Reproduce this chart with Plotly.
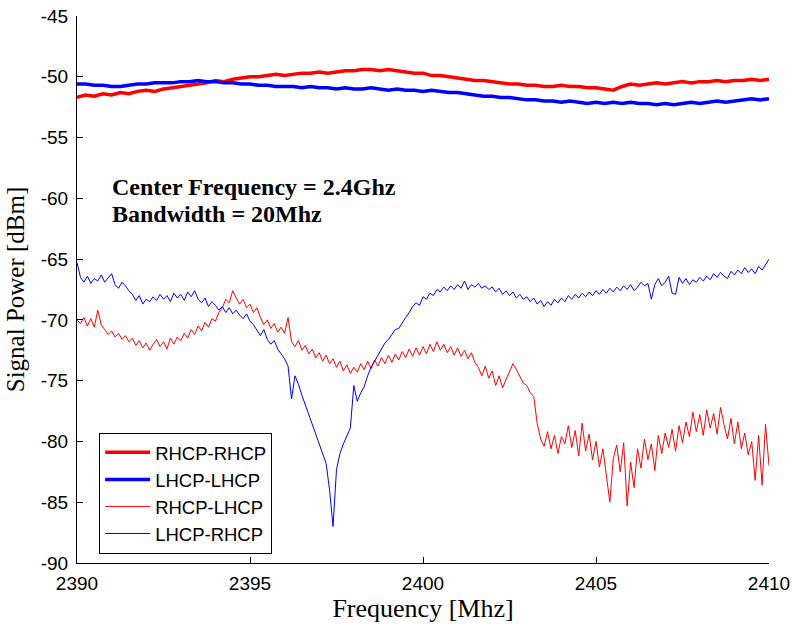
import numpy as np
import plotly.graph_objects as go

# ---------------- data ----------------
f_start, f_stop = 2390.0, 2410.0
freq_thin = np.round(np.arange(201) * 0.1 + f_start, 2)   # 0.1 MHz grid
freq_thick = np.round(np.arange(81) * 0.25 + f_start, 2)  # 0.25 MHz grid

rhcp_rhcp = [
    -51.7, -51.5, -51.6, -51.4, -51.5, -51.3, -51.4, -51.2, -51.1, -51.2,
    -51.0, -50.9, -50.8, -50.7, -50.6, -50.5, -50.3, -50.4, -50.2, -50.1,
    -50.0, -50.0, -49.9, -49.8, -49.9, -49.8, -49.7, -49.7, -49.6, -49.7,
    -49.6, -49.5, -49.5, -49.4, -49.4, -49.5, -49.4, -49.5, -49.6, -49.7,
    -49.7, -49.9, -49.9, -50.0, -50.1, -50.2, -50.3, -50.3, -50.4, -50.5,
    -50.6, -50.6, -50.7, -50.7, -50.8, -50.8, -50.7, -50.8, -50.8, -50.9,
    -50.9, -51.0, -51.1, -50.8, -50.6, -50.7, -50.6, -50.5, -50.6, -50.5,
    -50.4, -50.5, -50.4, -50.4, -50.3, -50.4, -50.3, -50.3, -50.2, -50.3,
    -50.2,
]

lhcp_lhcp = [
    -50.6, -50.6, -50.7, -50.7, -50.8, -50.8, -50.7, -50.6, -50.6, -50.5,
    -50.5, -50.5, -50.4, -50.4, -50.3, -50.4, -50.4, -50.5, -50.5, -50.6,
    -50.6, -50.7, -50.7, -50.8, -50.8, -50.8, -50.9, -50.8, -50.9, -50.9,
    -51.0, -50.9, -51.0, -51.0, -50.9, -51.0, -51.1, -51.0, -51.1, -51.1,
    -51.2, -51.1, -51.2, -51.3, -51.3, -51.4, -51.5, -51.6, -51.6, -51.7,
    -51.7, -51.8, -51.9, -51.9, -52.0, -52.0, -52.1, -52.0, -52.1, -52.2,
    -52.1, -52.2, -52.1, -52.2, -52.1, -52.2, -52.2, -52.3, -52.2, -52.3,
    -52.2, -52.1, -52.2, -52.1, -52.0, -52.1, -52.0, -51.9, -51.8, -51.9,
    -51.8,
]

rhcp_lhcp = [
    -70.0, -70.3, -69.8, -70.5, -69.9, -70.6, -69.2, -70.4, -70.8, -71.2,
    -70.9, -71.4, -71.1, -71.6, -71.3, -71.8, -71.5, -72.1, -71.7, -72.3,
    -71.9, -72.5, -72.0, -71.6, -72.2, -71.8, -72.4, -71.5, -72.0, -71.4,
    -71.7, -71.1, -71.5, -70.8, -71.2, -70.5, -70.9, -70.2, -70.6, -69.9,
    -70.1, -69.4, -69.0, -68.3, -68.6, -67.6, -68.2, -68.7, -68.3, -69.0,
    -68.7, -69.4, -69.0, -69.8, -70.4, -70.0, -70.7, -70.3, -71.0, -70.6,
    -71.1, -69.8, -71.8, -72.2, -71.7, -72.5, -72.1, -72.8, -72.4, -73.1,
    -72.7, -73.4, -72.9, -73.6, -73.2, -73.9, -73.4, -74.2, -73.7, -74.4,
    -73.9, -74.3, -73.6, -74.1, -73.4, -74.0, -73.3, -73.8, -73.1, -73.6,
    -72.9, -73.5, -72.8, -73.3, -72.6, -73.1, -72.4, -73.0, -72.3, -72.9,
    -72.2, -72.8, -72.0, -72.6, -71.8, -72.5, -72.0, -72.7, -72.2, -72.9,
    -72.3, -73.0, -72.5, -73.2, -72.7, -73.5, -73.9, -74.6, -73.8, -74.8,
    -74.2, -75.4, -74.6, -75.6, -74.9, -74.3, -73.6, -74.1, -74.6, -75.2,
    -75.4, -76.0, -76.3, -78.5, -79.8, -80.4, -79.2, -80.6, -79.5, -81.0,
    -79.6, -80.2, -78.7, -80.5, -79.1, -81.2, -78.5, -80.8, -79.4, -81.5,
    -80.0, -82.1, -80.6, -83.0, -85.0, -81.4, -80.3, -82.5, -80.1, -85.3,
    -81.7, -83.8, -80.6, -82.2, -79.8, -81.5, -80.2, -82.4, -79.5, -81.0,
    -79.3, -80.5, -79.0, -80.8, -78.7, -80.1, -78.4, -79.6, -77.6, -79.2,
    -77.8, -79.5, -77.4, -78.9, -77.7, -79.4, -77.2, -78.6, -79.8, -78.1,
    -80.2, -78.4, -80.6, -79.3, -81.1, -80.0, -83.2, -79.5, -83.6, -78.6,
    -82.0,
]

lhcp_rhcp = [
    -65.3, -66.5, -66.9, -66.4, -67.0, -66.6, -66.8, -66.3, -66.9, -66.5,
    -66.2, -67.1, -67.4, -66.9, -67.2, -67.6, -67.9, -68.4, -68.0, -68.7,
    -68.3, -68.5, -68.1, -68.4, -67.9, -68.3, -68.0, -68.5, -67.8, -68.2,
    -67.9, -68.4, -67.7, -68.1, -67.6, -68.3, -68.6, -68.2, -68.9, -68.5,
    -68.8, -69.2, -68.9, -69.4, -69.0, -69.5, -69.2, -69.6, -69.9, -69.5,
    -70.1, -70.4, -70.9, -71.3, -70.8, -71.6, -72.0, -71.7, -72.4, -72.8,
    -73.2, -73.8, -76.5, -74.6, -75.3, -76.2, -77.0, -77.8, -78.6, -79.3,
    -80.2, -80.9, -81.8, -84.0, -87.0, -82.3, -81.0, -80.2, -79.6, -78.9,
    -75.4, -76.7, -76.0, -75.5, -74.6, -73.9, -73.4, -72.9, -72.3, -71.9,
    -71.6, -71.2, -70.8, -70.7, -70.2, -69.8, -69.4, -68.9, -68.6, -68.8,
    -68.1, -68.3, -67.8, -68.0, -67.5, -67.7, -67.3, -67.6, -67.2, -67.5,
    -67.1, -67.4, -66.8, -67.5, -67.1, -67.3, -67.0, -67.4, -67.2, -67.5,
    -67.3, -67.7, -67.4, -67.9, -67.6, -68.0, -67.7, -68.2, -67.9, -68.3,
    -68.1, -68.5, -68.2, -68.7, -68.4, -68.9, -68.5, -68.8, -68.3, -68.6,
    -68.2, -68.5, -68.0, -68.3, -67.9, -68.2, -67.8, -68.1, -67.7, -68.0,
    -67.6, -67.9, -67.5, -67.8, -67.4, -67.7, -67.3, -67.6, -67.2, -67.5,
    -67.1, -67.6, -67.3, -66.9, -67.2, -67.0, -68.3, -67.1, -66.6, -67.2,
    -66.9, -66.4, -67.8, -67.9, -66.5, -67.0, -66.6, -67.1, -66.7, -66.9,
    -66.5, -66.8, -66.4, -66.7, -66.2, -66.5, -66.1, -66.4, -66.6, -66.0,
    -66.3, -65.9, -66.2, -65.7, -66.1, -65.8, -66.2, -65.6, -65.9, -65.4,
    -65.0,
]

series_names = ["RHCP-RHCP", "LHCP-LHCP", "RHCP-LHCP", "LHCP-RHCP"]
x_ticks = [2390, 2395, 2400, 2405, 2410]
y_ticks = [-90, -85, -80, -75, -70, -65, -60, -55, -50, -45]
y_tick_text = ["-90", "-85", "-80", "-75", "-70", "-65", "-60", "-55", "-50", "-45"]
note_lines = ["Center Frequency = 2.4Ghz", "Bandwidth = 20Mhz"]

# ---------------- figure ----------------
fig = go.Figure()
fig.add_trace(go.Scatter(x=freq_thick, y=rhcp_rhcp, mode="lines", name=series_names[0],
                         line=dict(color="#ff0000", width=3.5)))
fig.add_trace(go.Scatter(x=freq_thick, y=lhcp_lhcp, mode="lines", name=series_names[1],
                         line=dict(color="#0000ff", width=3.5)))
fig.add_trace(go.Scatter(x=freq_thin, y=rhcp_lhcp, mode="lines", name=series_names[2],
                         line=dict(color="#ff0000", width=1)))
fig.add_trace(go.Scatter(x=freq_thin, y=lhcp_rhcp, mode="lines", name=series_names[3],
                         line=dict(color="#0000ff", width=1)))

axis_common = dict(showline=True, linecolor="black", linewidth=1, mirror=False,
                   showgrid=False, zeroline=False, ticks="inside", ticklen=6,
                   tickcolor="black", tickwidth=1, automargin=False,
                   tickfont=dict(family="Liberation Sans, Arial", size=19, color="black"))

fig.update_layout(
    width=792, height=630,
    margin=dict(l=77, r=23, t=16, b=67),
    paper_bgcolor="white", plot_bgcolor="white",
    xaxis=dict(range=[f_start, f_stop], tickvals=x_ticks,
               title=dict(text="Frequency [Mhz]", standoff=4,
                          font=dict(family="Liberation Serif, Times New Roman", size=26, color="black")),
               ticklabelstandoff=3, **axis_common),
    yaxis=dict(range=[-90, -45], tickvals=y_ticks, ticktext=y_tick_text,
               title=dict(text="Signal Power [dBm]", standoff=8,
                          font=dict(family="Liberation Serif, Times New Roman", size=25, color="black")),
               ticklabelstandoff=4, **axis_common),
    legend=dict(x=0.032, y=0.238, xanchor="left", yanchor="top",
                bgcolor="white", bordercolor="black", borderwidth=1,
                font=dict(family="Liberation Sans, Arial", size=18.5, color="black"),
                tracegroupgap=0, itemwidth=45),
    showlegend=True,
)

fig.add_annotation(x=2390.95, y=-59.1, xref="x", yref="y", text="<b>" + note_lines[0] + "</b>",
                   showarrow=False, xanchor="left", yanchor="middle",
                   font=dict(family="Liberation Serif, Times New Roman", size=24, color="black"))
fig.add_annotation(x=2390.95, y=-61.25, xref="x", yref="y", text="<b>" + note_lines[1] + "</b>",
                   showarrow=False, xanchor="left", yanchor="middle",
                   font=dict(family="Liberation Serif, Times New Roman", size=24, color="black"))

fig.write_html("out.html")
